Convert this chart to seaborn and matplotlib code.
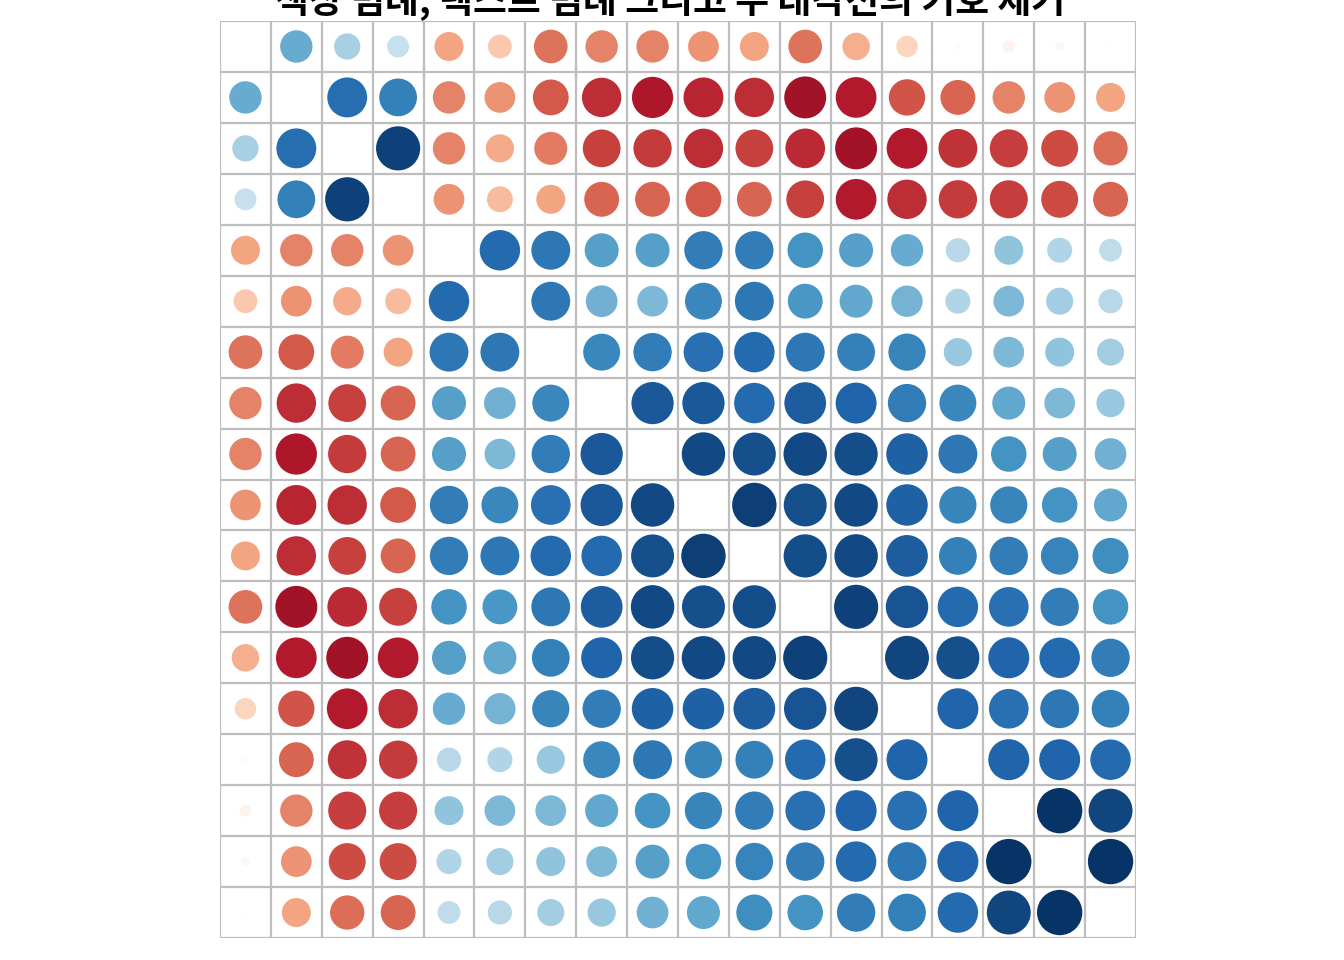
import numpy as np
import pandas as pd
import matplotlib
matplotlib.use("Agg")
import matplotlib.pyplot as plt
from matplotlib.colors import LinearSegmentedColormap
import seaborn as sns

# variable names (labels are hidden in the chart)
variables = [f"V{i + 1}" for i in range(18)]

# upper triangle of the correlation matrix, row by row (values right of the diagonal)
upper = [
    [0.50, 0.33, 0.23, -0.40, -0.27, -0.54, -0.50, -0.50, -0.45, -0.40, -0.54, -0.36, -0.22, 0.02, -0.07, -0.04, 0.01],
    [0.76, 0.68, -0.50, -0.45, -0.61, -0.74, -0.81, -0.76, -0.74, -0.84, -0.79, -0.63, -0.58, -0.50, -0.45, -0.40],
    [0.93, -0.50, -0.38, -0.52, -0.68, -0.70, -0.74, -0.68, -0.75, -0.84, -0.79, -0.72, -0.69, -0.65, -0.56],
    [-0.45, -0.32, -0.40, -0.58, -0.58, -0.61, -0.58, -0.68, -0.79, -0.74, -0.70, -0.69, -0.65, -0.58],
    [0.78, 0.72, 0.55, 0.55, 0.70, 0.70, 0.60, 0.55, 0.50, 0.28, 0.40, 0.30, 0.25],
    [0.72, 0.48, 0.45, 0.65, 0.72, 0.58, 0.52, 0.47, 0.30, 0.45, 0.35, 0.28],
    [0.65, 0.70, 0.75, 0.78, 0.72, 0.68, 0.66, 0.38, 0.45, 0.40, 0.35],
    [0.85, 0.85, 0.78, 0.83, 0.80, 0.70, 0.65, 0.52, 0.45, 0.38],
    [0.90, 0.88, 0.90, 0.89, 0.82, 0.72, 0.60, 0.55, 0.48],
    [0.94, 0.88, 0.90, 0.82, 0.66, 0.66, 0.60, 0.52],
    [0.89, 0.90, 0.83, 0.68, 0.70, 0.67, 0.62],
    [0.93, 0.86, 0.78, 0.75, 0.70, 0.60],
    [0.92, 0.88, 0.80, 0.78, 0.70],
    [0.80, 0.75, 0.72, 0.68],
    [0.80, 0.80, 0.78],
    [0.98, 0.92],
    [0.98],
]

n = len(variables)
corr = np.eye(n)
for i, row in enumerate(upper):
    for k, v in enumerate(row):
        corr[i, i + 1 + k] = v
        corr[i + 1 + k, i] = v

# long format, diagonal removed
rows = []
for i in range(n):
    for j in range(n):
        if i != j:
            rows.append({"x": j, "y": i, "r": corr[i, j], "absr": abs(corr[i, j])})
df = pd.DataFrame(rows)

# corrplot style RdBu ramp
rdbu = LinearSegmentedColormap.from_list("corr_rdbu", [
    "#67001F", "#B2182B", "#D6604D", "#F4A582", "#FDDBC7", "#FFFFFF",
    "#D1E5F0", "#92C5DE", "#4393C3", "#2166AC", "#053061"])

fig = plt.figure(figsize=(13.44, 9.6), dpi=100)
ax = fig.add_axes([220 / 1344, 1 - 938 / 960, 916 / 1344, 917 / 960])

# circle area proportional to |r|
cell_pt = 916 / n / 100 * 72
smax = (0.9 * cell_pt) ** 2
sns.scatterplot(data=df, x="x", y="y", hue="r", palette=rdbu, hue_norm=(-1, 1),
                size="absr", sizes=(0, smax), size_norm=(0, 1),
                linewidth=0, legend=False, ax=ax)

ax.set_xlim(-0.5, n - 0.5)
ax.set_ylim(n - 0.5, -0.5)
ax.set_xticks(np.arange(n + 1) - 0.5)
ax.set_yticks(np.arange(n + 1) - 0.5)
ax.grid(True, color="#bebebe", linewidth=1.6)
ax.set_axisbelow(True)
ax.tick_params(length=0, labelbottom=False, labelleft=False)
ax.set_xlabel("")
ax.set_ylabel("")
for s in ax.spines.values():
    s.set_visible(False)

fig.text(670 / 1344, 1 - 13 / 960, "색상 범례, 텍스트 범례 그리고 주 대각선의 기호 제거",
         ha="center", va="baseline", fontsize=26.5, fontweight="bold",
         family=["Noto Sans CJK KR", "DejaVu Sans"])

fig.savefig("out.png", dpi=100)
